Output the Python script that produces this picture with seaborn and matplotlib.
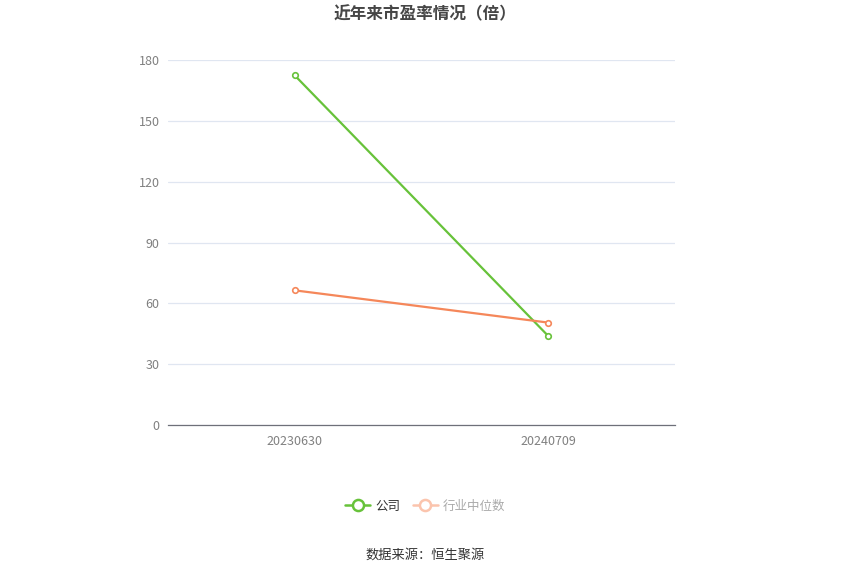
import matplotlib
matplotlib.use("Agg")
import matplotlib.pyplot as plt
import seaborn as sns
import pandas as pd
from matplotlib.lines import Line2D

dates = ["20230630", "20240709"]
company = [172.4, 43.9]
industry = [66.4, 50.5]
y_ticks = [0, 30, 60, 90, 120, 150, 180]

sns.set_theme(style="white")
plt.rcParams['font.family'] = ['Noto Sans CJK SC', 'DejaVu Sans']

df = pd.DataFrame({
    "date": dates * 2,
    "value": company + industry,
    "series": ["公司"] * len(dates) + ["行业中位数"] * len(dates),
})

fig = plt.figure(figsize=(8.5, 5.75), dpi=100)
ax = fig.add_axes([168/850, 1 - 425/575, (675-168)/850, (425-60)/575])

green = "#67c23a"
orange = "#f5875a"
palette = {"公司": green, "行业中位数": orange}

sns.lineplot(data=df, x="date", y="value", hue="series", palette=palette,
             marker="o", markersize=4, markerfacecolor="white",
             markeredgewidth=1.2, linewidth=1.6, ax=ax, legend=False, sort=False)
for line, c in zip(ax.get_lines(), [green, orange]):
    line.set_markeredgecolor(c)

ax.set_xlim(-0.5, 1.5)
ax.set_ylim(0, 180)
ax.set_yticks(y_ticks)
ax.set_yticklabels([str(v) for v in y_ticks])
ax.set_xlabel("")
ax.set_ylabel("")
ax.grid(axis="y", color="#e0e6f1", linewidth=0.9)
ax.set_axisbelow(True)
for s in ["top", "right", "left"]:
    ax.spines[s].set_visible(False)
ax.spines["bottom"].set_color("#6e7079")
ax.spines["bottom"].set_linewidth(0.9)
ax.tick_params(axis="x", colors="#6e7079", labelcolor="#808080", labelsize=9,
               length=4, width=0.9, direction="out", pad=3)
ax.tick_params(axis="y", length=0, labelcolor="#808080", labelsize=9, pad=6)

fig.text(0.5, 1 - 14/575, "近年来市盈率情况（倍）", ha="center", va="center",
         fontsize=12, fontweight="bold", color="#464646")

handles = [
    Line2D([0], [0], color=green, linewidth=1.8, marker="o", markersize=8,
           markerfacecolor="white", markeredgecolor=green, markeredgewidth=1.8),
    Line2D([0], [0], color="#fbc4ad", linewidth=1.8, marker="o", markersize=8,
           markerfacecolor="white", markeredgecolor="#fbc4ad", markeredgewidth=1.8),
]
leg = fig.legend(handles, ["公司", "行业中位数"], loc="center",
                 bbox_to_anchor=(0.5, 1 - 506/575), ncol=2, frameon=False,
                 fontsize=9, handlelength=2.0, handletextpad=0.4, columnspacing=1.0)
leg.get_texts()[0].set_color("#333333")
leg.get_texts()[1].set_color("#aaaaaa")

fig.text(0.5, 1 - 555/575, "数据来源：恒生聚源", ha="center", va="center",
         fontsize=9.5, color="#333333")

fig.savefig("out.png", dpi=100)
